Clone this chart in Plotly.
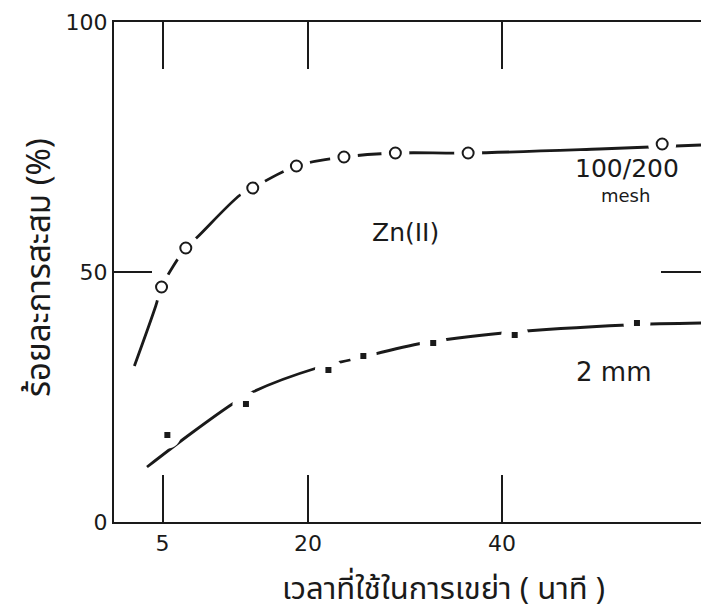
import plotly.graph_objects as go

# Shaking time (min) and cumulative uptake (%) of Zn(II)
mesh_time = [4.9, 7.4, 14.3, 18.8, 23.7, 29.0, 36.5, 56.5]
mesh_uptake = [47.0, 54.8, 66.8, 71.2, 73.0, 73.8, 73.8, 75.6]

mm_time = [5.5, 13.6, 22.1, 25.7, 32.9, 41.3, 53.9]
mm_uptake = [17.4, 23.6, 30.4, 33.2, 35.8, 37.4, 39.8]

# Hand-fitted trend curves drawn through each set
mesh_fit_time = [2.1, 4.3, 4.9, 7.4, 8.6, 13.0, 14.3, 18.8, 23.7, 29.0, 36.5, 50.0, 60.5]
mesh_fit_uptake = [31.2, 43.2, 47.0, 54.8, 57.0, 65.4, 66.8, 71.2, 73.0, 73.8, 73.8, 74.6, 75.4]

mm_fit_time = [3.4, 8.0, 12.2, 14.3, 20.9, 24.8, 31.9, 40.1, 52.9, 60.5]
mm_fit_uptake = [11.0, 17.8, 23.6, 26.0, 30.8, 32.6, 35.8, 37.8, 39.4, 39.8]

x_ticks = [5, 20, 40]
y_ticks = [0, 50, 100]

INK = "#1a1a1a"
FONT = "DejaVu Sans, Noto Sans, sans-serif"
THAI = "Noto Sans Thai, Loma, Garuda, Norasi, Noto Sans, sans-serif"

fig = go.Figure()

# trend curves
fig.add_trace(go.Scatter(x=mesh_fit_time, y=mesh_fit_uptake, mode="lines",
                         line=dict(color=INK, width=2.8, shape="spline", smoothing=1.0),
                         hoverinfo="skip", showlegend=False))
fig.add_trace(go.Scatter(x=mm_fit_time, y=mm_fit_uptake, mode="lines",
                         line=dict(color=INK, width=2.8, shape="spline", smoothing=1.0),
                         hoverinfo="skip", showlegend=False))

# white halos break the curves around each measured point
fig.add_trace(go.Scatter(x=mesh_time, y=mesh_uptake, mode="markers",
                         marker=dict(symbol="circle", size=28, color="white", line=dict(width=0)),
                         hoverinfo="skip", showlegend=False))
fig.add_trace(go.Scatter(x=mm_time, y=mm_uptake, mode="markers",
                         marker=dict(symbol="circle", size=27, color="white", line=dict(width=0)),
                         hoverinfo="skip", showlegend=False))

# measured points
fig.add_trace(go.Scatter(x=mesh_time, y=mesh_uptake, mode="markers", name="100/200 mesh",
                         marker=dict(symbol="circle", size=11, color="white",
                                     line=dict(color=INK, width=2)),
                         showlegend=False))
fig.add_trace(go.Scatter(x=mm_time, y=mm_uptake, mode="markers", name="2 mm",
                         marker=dict(symbol="square", size=6, color=INK, line=dict(width=0)),
                         showlegend=False))

# right-hand frame tick at 50 %
fig.add_trace(go.Scatter(x=[None], y=[None], yaxis="y2", showlegend=False, hoverinfo="skip"))

fig.update_layout(
    width=701, height=616,
    margin=dict(l=114, r=0, t=22, b=94),
    paper_bgcolor="white", plot_bgcolor="white",
    font=dict(family=FONT, color=INK),
    xaxis=dict(range=[0, 60.5], tickvals=x_ticks, ticktext=[str(v) for v in x_ticks],
               ticks="inside", ticklen=47, tickwidth=2, tickcolor=INK,
               showline=True, linewidth=2.2, linecolor=INK, mirror="ticks",
               showgrid=False, zeroline=False,
               tickfont=dict(size=22, family=FONT, color=INK)),
    yaxis=dict(range=[0, 100], tickvals=y_ticks, ticktext=[str(v) for v in y_ticks],
               ticks="inside", ticklen=38, tickwidth=2, tickcolor=INK,
               showline=True, linewidth=2.2, linecolor=INK,
               showgrid=False, zeroline=False,
               tickfont=dict(size=22, family=FONT, color=INK)),
    yaxis2=dict(range=[0, 100], overlaying="y", side="right", tickvals=[50],
                ticks="inside", ticklen=40, tickwidth=2, tickcolor=INK,
                showticklabels=False, showline=False, showgrid=False, zeroline=False),
    annotations=[
        dict(text="เวลาที่ใช้ในการเขย่า ( นาที )", xref="paper", yref="paper",
             x=(443 - 114) / 587, y=-(589 - 522) / 500, showarrow=False,
             xanchor="center", yanchor="middle", font=dict(size=31, family=THAI, color=INK)),
        dict(text="ร้อยละการสะสม (%)", xref="paper", yref="paper",
             x=-(114 - 40) / 587, y=(522 - 268) / 500, showarrow=False, textangle=-90,
             xanchor="center", yanchor="middle", font=dict(size=33, family=THAI, color=INK)),
        dict(text="Zn(II)", xref="paper", yref="paper",
             x=(405 - 114) / 587, y=(522 - 232) / 500, showarrow=False,
             xanchor="center", yanchor="middle", font=dict(size=25, family=FONT, color=INK)),
        dict(text="100/200", xref="paper", yref="paper",
             x=(573 - 114) / 587, y=(522 - 168) / 500, showarrow=False,
             xanchor="left", yanchor="middle", font=dict(size=25, family=FONT, color=INK)),
        dict(text="mesh", xref="paper", yref="paper",
             x=(625 - 114) / 587, y=(522 - 195) / 500, showarrow=False,
             xanchor="center", yanchor="middle", font=dict(size=18, family=FONT, color=INK)),
        dict(text="2 mm", xref="paper", yref="paper",
             x=(613 - 114) / 587, y=(522 - 372) / 500, showarrow=False,
             xanchor="center", yanchor="middle", font=dict(size=26, family=FONT, color=INK)),
    ],
)

fig.write_html("out.html")
